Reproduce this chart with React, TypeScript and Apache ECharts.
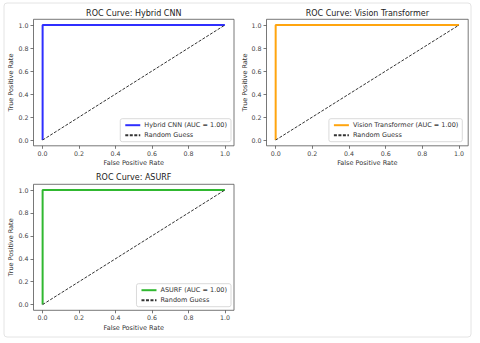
import React, { useEffect, useRef } from "react";
import * as echarts from "echarts";

const MODELS = ["Hybrid CNN", "Vision Transformer", "ASURF"];
const AUCS = [1.0, 1.0, 1.0];
const COLORS = ["#2f2fff", "#ffa50f", "#30b830"];
const ROC_FPR = [0, 0, 1];
const ROC_TPR = [0, 1, 1];
const DIAG_FPR = [0, 1];
const DIAG_TPR = [0, 1];
const TICKS = [0, 0.2, 0.4, 0.6, 0.8, 1.0];
const RANDOM_LABEL = "Random Guess";
const X_LABEL = "False Positive Rate";
const Y_LABEL = "True Positive Rate";

const FONT = "DejaVu Sans";

// layout: [left, top, width, height]
const GRIDS = [
  [33.5, 19.3, 200.5, 126.5],
  [266.5, 19.3, 201.7, 126.5],
  [33.5, 184.3, 200.5, 126],
];
const LEGEND_POS = [
  { right: 249, bottom: 201.3 },
  { right: 17.7, bottom: 201.3 },
  { right: 249, bottom: 36.3 },
];
const TITLE_Y = [13, 13, 177.7];
const XLABEL_Y = [163, 163, 328.3];
const YLABEL_X = [11, 245, 11];

export default function App() {
  const ref = useRef<HTMLDivElement>(null);
  useEffect(() => {
    if (!ref.current) return;
    const chart = echarts.init(ref.current, null, { renderer: "svg" });
    const zip = (a: number[], b: number[]) => a.map((v, i) => [v, b[i]]);
    const grid: any[] = [];
    const xAxis: any[] = [];
    const yAxis: any[] = [];
    const series: any[] = [];
    const legend: any[] = [];
    const graphic: any[] = [
      {
        type: "rect",
        shape: { x: 4, y: 3, width: 467, height: 334, r: 3 },
        style: { fill: "none", stroke: "#e4e4e4", lineWidth: 1 },
        silent: true,
        z: -10,
      },
    ];
    const axisCommon = (isX: boolean) => ({
      type: "value",
      min: -0.05,
      max: 1.05,
      splitLine: { show: false },
      axisLine: { show: false, onZero: false },
      axisTick: {
        show: true,
        length: 3,
        inside: false,
        lineStyle: { color: "#555", width: 0.8 },
        customValues: TICKS,
      },
      axisLabel: {
        fontSize: 6.3,
        fontFamily: FONT,
        color: "#444",
        margin: isX ? 4.5 : 5,
        customValues: TICKS,
        formatter: (v: number) => v.toFixed(1),
      },
    });
    MODELS.forEach((m, i) => {
      const [l, t, w, h] = GRIDS[i];
      grid.push({
        left: l,
        top: t,
        width: w,
        height: h,
        show: true,
        borderColor: "#555",
        borderWidth: 0.8,
        backgroundColor: "#fff",
        containLabel: false,
      });
      xAxis.push({ ...axisCommon(true), gridIndex: i, position: "bottom" });
      yAxis.push({ ...axisCommon(false), gridIndex: i, position: "left" });
      const name = `${m} (AUC = ${AUCS[i].toFixed(2)})`;
      series.push({
        type: "line",
        name,
        xAxisIndex: i,
        yAxisIndex: i,
        data: zip(ROC_FPR, ROC_TPR),
        showSymbol: false,
        symbol: "none",
        lineStyle: { color: COLORS[i], width: 2 },
        itemStyle: { color: COLORS[i] },
        z: 3,
      });
      series.push({
        type: "line",
        name: RANDOM_LABEL,
        xAxisIndex: i,
        yAxisIndex: i,
        data: zip(DIAG_FPR, DIAG_TPR),
        showSymbol: false,
        symbol: "none",
        lineStyle: { color: "#333", width: 1, type: [3, 1.5] },
        itemStyle: { color: "#333" },
        z: 4,
      });
      legend.push({
        ...LEGEND_POS[i],
        orient: "vertical",
        data: [name, RANDOM_LABEL],
        itemWidth: 15,
        itemHeight: 7,
        itemGap: 3,
        padding: [3, 4, 3, 4],
        borderColor: "#d0d0d0",
        borderWidth: 0.8,
        borderRadius: 2,
        backgroundColor: "#fff",
        selectedMode: false,
        itemStyle: { color: "transparent", borderWidth: 0, opacity: 0 },
        textStyle: { fontSize: 6.5, fontFamily: FONT, color: "#333", padding: [0, 0, 0, -1] },
      });
      const cx = l + w / 2;
      graphic.push({
        type: "text",
        x: cx,
        y: TITLE_Y[i],
        style: {
          text: `ROC Curve: ${m}`,
          fontSize: 8,
          fontFamily: FONT,
          fill: "#222",
          align: "center",
          verticalAlign: "middle",
        },
      });
      graphic.push({
        type: "text",
        x: cx,
        y: XLABEL_Y[i],
        style: {
          text: X_LABEL,
          fontSize: 6.5,
          fontFamily: FONT,
          fill: "#333",
          align: "center",
          verticalAlign: "middle",
        },
      });
      graphic.push({
        type: "text",
        x: YLABEL_X[i],
        y: t + h / 2,
        rotation: Math.PI / 2,
        style: {
          text: Y_LABEL,
          fontSize: 6.5,
          fontFamily: FONT,
          fill: "#333",
          align: "center",
          verticalAlign: "middle",
        },
      });
    });
    chart.setOption({
      animation: false,
      backgroundColor: "#fff",
      textStyle: { fontFamily: FONT },
      grid,
      xAxis,
      yAxis,
      series,
      legend,
      graphic,
    });
    return () => chart.dispose();
  }, []);
  return (
    <div
      ref={ref}
      style={{ position: "absolute", left: 0, top: 0, width: 480, height: 343 }}
    />
  );
}
